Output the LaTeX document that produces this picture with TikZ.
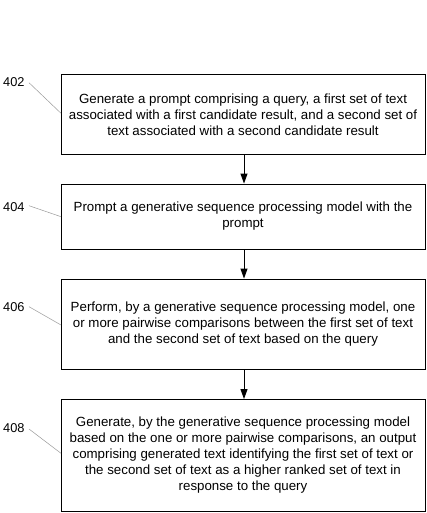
\documentclass[tikz,border=0pt]{standalone}
\usepackage{fontspec}
\setmainfont{Liberation Sans}
\usetikzlibrary{arrows.meta}
\begin{document}
\begin{tikzpicture}[x=1pt,y=-1pt,
  stepbox/.style={draw=black,line width=0.9pt,fill=white,inner sep=0pt},
  txt/.style={align=center,font=\fontsize{13.3}{16}\selectfont},
  lbl/.style={font=\fontsize{12.8}{15}\selectfont,anchor=west,inner sep=0pt},
  leader/.style={draw=gray!80,line width=0.5pt},
  flow/.style={draw=black,line width=0.9pt,-{Triangle[length=10pt,width=7pt]}}]
\useasboundingbox (0,0) rectangle (427,513);
% boxes
\node[stepbox,minimum width=364pt,minimum height=80pt] (b1) at (243,114.5) {};
\node[txt] at (b1) {Generate a prompt comprising a query, a first set of text\\associated with a first candidate result, and a second set of\\text associated with a second candidate result};
\node[stepbox,minimum width=364pt,minimum height=65pt] (b2) at (243,216.5) {};
\node[txt] at (b2) {Prompt a generative sequence processing model with the\\prompt};
\node[stepbox,minimum width=364pt,minimum height=90pt] (b3) at (243,324) {};
\node[txt] at (b3) {Perform, by a generative sequence processing model, one\\or more pairwise comparisons between the first set of text\\and the second set of text based on the query};
\node[stepbox,minimum width=364pt,minimum height=112pt] (b4) at (243,455.5) {};
\node[txt] at (b4.center) {Generate, by the generative sequence processing model\\based on the one or more pairwise comparisons, an output\\comprising generated text identifying the first set of text or\\the second set of text as a higher ranked set of text in\\response to the query};
% arrows
\draw[flow] ([xshift=1pt]b1.south) -- ([xshift=1pt]b2.north);
\draw[flow] ([xshift=1pt]b2.south) -- ([xshift=1pt]b3.north);
\draw[flow] ([xshift=1pt]b3.south) -- ([xshift=1pt]b4.north);
% labels
\node[lbl] (l1) at (3,81.7) {402};
\node[lbl] (l2) at (3,206.7) {404};
\node[lbl] (l3) at (3,306.7) {406};
\node[lbl] (l4) at (3,428.5) {408};
\coordinate (c1) at (61,113.3);
\coordinate (c2) at (61,216.7);
\coordinate (c3) at (61,325);
\coordinate (c4) at (61,453.3);
\draw[leader] (29,82.7) -- (c1);
\draw[leader] (29,205.7) -- (c2);
\draw[leader] (29,306.7) -- (c3);
\draw[leader] (29,429) -- (c4);
\end{tikzpicture}
\end{document}
